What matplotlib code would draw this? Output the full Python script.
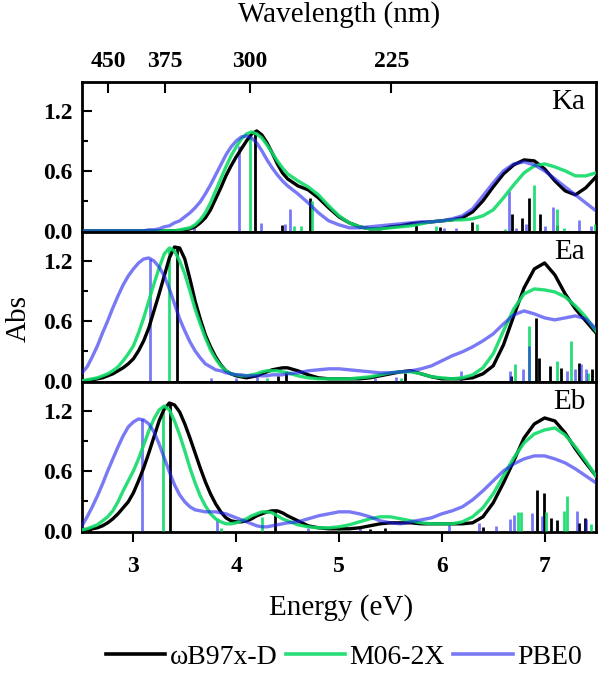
import numpy as np
import matplotlib
matplotlib.use('Agg')
import matplotlib.pyplot as plt
from matplotlib.lines import Line2D

plt.rcParams['font.family'] = ['Liberation Serif', 'DejaVu Serif']

energy = np.round(np.concatenate([np.arange(2.5, 4.501, 0.05), np.arange(4.6, 7.501, 0.1)]), 2)

# ---- Ka ----
ka_wb97 = [0]*20 + [0.01, 0.02, 0.04, 0.08, 0.13, 0.21, 0.32, 0.43, 0.55, 0.65, 0.74, 0.82, 0.9, 0.97, 1.0,
           0.96, 0.88, 0.78, 0.67, 0.58, 0.52] + \
          [0.45, 0.41, 0.33, 0.23, 0.14, 0.08, 0.04, 0.02, 0.02, 0.04, 0.05, 0.07, 0.08, 0.09, 0.1, 0.11, 0.13,
           0.19, 0.3, 0.44, 0.57, 0.66, 0.71, 0.7, 0.62, 0.5, 0.4, 0.36, 0.43, 0.54]
ka_m06 = [0]*19 + [0.01, 0.02, 0.03, 0.06, 0.11, 0.18, 0.28, 0.4, 0.52, 0.64, 0.75, 0.84, 0.92, 0.97, 0.99,
          0.97, 0.93, 0.86, 0.78, 0.7, 0.63, 0.57] + \
         [0.5, 0.44, 0.36, 0.25, 0.15, 0.08, 0.04, 0.02, 0.02, 0.03, 0.04, 0.05, 0.07, 0.09, 0.1, 0.11, 0.11,
          0.12, 0.15, 0.21, 0.33, 0.46, 0.58, 0.65, 0.67, 0.64, 0.6, 0.55, 0.55, 0.58]
ka_pbe0 = [0]*13 + [0.01, 0.01, 0.02, 0.04, 0.05, 0.08, 0.1, 0.14, 0.18, 0.23, 0.29, 0.37, 0.46, 0.56, 0.66,
           0.76, 0.84, 0.9, 0.94, 0.95, 0.93, 0.88, 0.8, 0.71, 0.63, 0.56, 0.5, 0.45] + \
          [0.37, 0.28, 0.18, 0.1, 0.06, 0.03, 0.03, 0.04, 0.05, 0.06, 0.07, 0.08, 0.09, 0.09, 0.1, 0.12, 0.15,
           0.22, 0.35, 0.48, 0.6, 0.67, 0.69, 0.66, 0.6, 0.52, 0.44, 0.36, 0.28, 0.2]

ka_wb97_st_e = [4.18, 4.45, 4.72, 5.75, 5.98, 6.29, 6.68, 6.78, 6.85, 6.96, 7.12]
ka_wb97_st_f = [0.97, 0.06, 0.33, 0.06, 0.04, 0.09, 0.17, 0.13, 0.33, 0.17, 0.06]
ka_m06_st_e = [4.13, 4.56, 4.63, 4.74, 5.94, 6.34, 6.61, 6.90, 7.12, 7.19, 7.49]
ka_m06_st_f = [0.96, 0.05, 0.05, 0.30, 0.05, 0.07, 0.02, 0.46, 0.22, 0.03, 0.07]
ka_pbe0_st_e = [3.59, 4.03, 4.24, 4.47, 4.52, 6.02, 6.14, 6.65, 6.72, 6.82, 7.0, 7.08, 7.33, 7.45]
ka_pbe0_st_f = [0.03, 0.85, 0.08, 0.07, 0.22, 0.03, 0.03, 0.40, 0.03, 0.07, 0.05, 0.24, 0.11, 0.05]

# ---- Ea ----
ea_wb97 = [0.0, 0.0, 0.01, 0.02, 0.03, 0.05, 0.07, 0.1, 0.13, 0.17, 0.22, 0.3, 0.4, 0.53, 0.7, 0.87, 1.05,
           1.23, 1.34, 1.33, 1.22, 1.02, 0.8, 0.62, 0.46, 0.34, 0.24, 0.16, 0.1, 0.07, 0.05, 0.04, 0.03, 0.04,
           0.05, 0.07, 0.09, 0.11, 0.12, 0.13, 0.13] + \
          [0.1, 0.06, 0.03, 0.02, 0.02, 0.02, 0.02, 0.03, 0.05, 0.07, 0.09, 0.1, 0.07, 0.04, 0.02, 0.02, 0.02,
           0.03, 0.07, 0.15, 0.36, 0.65, 0.93, 1.12, 1.18, 1.06, 0.87, 0.72, 0.6, 0.48]
ea_m06 = [0.0, 0.01, 0.02, 0.03, 0.05, 0.07, 0.1, 0.14, 0.2, 0.27, 0.35, 0.48, 0.63, 0.8, 0.97, 1.13, 1.27,
          1.33, 1.3, 1.2, 1.07, 0.9, 0.72, 0.57, 0.43, 0.31, 0.22, 0.15, 0.1, 0.07, 0.06, 0.05, 0.05, 0.06,
          0.07, 0.09, 0.1, 0.1, 0.1, 0.09, 0.08] + \
         [0.05, 0.03, 0.02, 0.02, 0.02, 0.02, 0.03, 0.04, 0.06, 0.08, 0.09, 0.09, 0.07, 0.04, 0.03, 0.02, 0.03,
          0.06, 0.13, 0.27, 0.5, 0.72, 0.87, 0.92, 0.91, 0.89, 0.84, 0.75, 0.64, 0.5]
ea_pbe0 = [0.08, 0.14, 0.24, 0.35, 0.48, 0.6, 0.73, 0.85, 0.96, 1.05, 1.12, 1.18, 1.22, 1.23, 1.2, 1.14, 1.05,
           0.92, 0.77, 0.62, 0.5, 0.39, 0.3, 0.23, 0.17, 0.14, 0.11, 0.1, 0.08, 0.07, 0.06, 0.06, 0.05, 0.05,
           0.05, 0.05, 0.05, 0.06, 0.06, 0.06, 0.07] + \
          [0.08, 0.1, 0.11, 0.12, 0.12, 0.11, 0.1, 0.09, 0.08, 0.08, 0.09, 0.1, 0.12, 0.15, 0.2, 0.25, 0.29,
           0.34, 0.4, 0.47, 0.57, 0.66, 0.7, 0.67, 0.63, 0.61, 0.63, 0.65, 0.62, 0.52]

ea_wb97_st_e = [3.42, 4.41, 4.48, 5.64, 6.67, 6.92, 6.95, 7.05, 7.16, 7.33, 7.46]
ea_wb97_st_f = [1.34, 0.05, 0.10, 0.08, 0.05, 0.63, 0.23, 0.15, 0.13, 0.18, 0.12]
ea_m06_st_e = [3.35, 4.30, 5.60, 6.71, 6.85, 7.12, 7.26, 7.42]
ea_m06_st_f = [1.32, 0.03, 0.03, 0.17, 0.55, 0.20, 0.40, 0.08]
ea_pbe0_st_e = [3.16, 3.75, 4.00, 4.20, 5.35, 5.55, 6.19, 6.66, 6.79, 6.85, 7.22, 7.30, 7.35, 7.40]
ea_pbe0_st_f = [1.22, 0.03, 0.03, 0.04, 0.03, 0.04, 0.10, 0.10, 0.12, 0.35, 0.10, 0.12, 0.17, 0.12]

# ---- Eb ----
eb_wb97 = [0.0, 0.01, 0.02, 0.03, 0.05, 0.08, 0.12, 0.17, 0.23, 0.29, 0.38, 0.5, 0.63, 0.78, 0.94, 1.1, 1.22,
           1.28, 1.26, 1.19, 1.07, 0.93, 0.78, 0.63, 0.49, 0.37, 0.27, 0.19, 0.13, 0.1, 0.09, 0.09, 0.1, 0.12,
           0.15, 0.17, 0.19, 0.2, 0.2, 0.18, 0.15] + \
          [0.1, 0.05, 0.03, 0.02, 0.02, 0.02, 0.03, 0.05, 0.07, 0.08, 0.08, 0.08, 0.07, 0.07, 0.07, 0.07, 0.07,
           0.08, 0.14, 0.28, 0.48, 0.7, 0.93, 1.07, 1.13, 1.1, 0.98, 0.82, 0.68, 0.55]
eb_m06 = [0.01, 0.02, 0.04, 0.06, 0.1, 0.14, 0.2, 0.29, 0.4, 0.5, 0.6, 0.72, 0.86, 1.0, 1.12, 1.21, 1.25,
          1.21, 1.1, 0.96, 0.8, 0.63, 0.48, 0.35, 0.25, 0.17, 0.12, 0.09, 0.07, 0.07, 0.08, 0.1, 0.12, 0.15,
          0.17, 0.19, 0.19, 0.18, 0.15, 0.12, 0.1] + \
         [0.06, 0.04, 0.03, 0.03, 0.04, 0.06, 0.09, 0.12, 0.14, 0.14, 0.12, 0.1, 0.08, 0.07, 0.07, 0.07, 0.09,
          0.14, 0.23, 0.37, 0.55, 0.73, 0.88, 0.97, 1.01, 1.03, 0.96, 0.84, 0.7, 0.55]
eb_pbe0 = [0.05, 0.14, 0.24, 0.35, 0.47, 0.6, 0.72, 0.84, 0.95, 1.04, 1.09, 1.12, 1.11, 1.07, 0.99, 0.87,
           0.73, 0.59, 0.46, 0.36, 0.29, 0.24, 0.21, 0.2, 0.19, 0.19, 0.19, 0.18, 0.17, 0.15, 0.13, 0.11, 0.09,
           0.07, 0.05, 0.04, 0.04, 0.05, 0.06, 0.07, 0.08] + \
          [0.09, 0.12, 0.15, 0.17, 0.19, 0.19, 0.17, 0.14, 0.1, 0.08, 0.07, 0.09, 0.11, 0.13, 0.17, 0.2, 0.24,
           0.31, 0.4, 0.5, 0.6, 0.67, 0.72, 0.75, 0.75, 0.72, 0.68, 0.62, 0.55, 0.48]

eb_wb97_st_e = [3.36, 4.38, 5.30, 5.45, 6.40, 6.93, 6.99, 7.06, 7.12, 7.33, 7.39]
eb_wb97_st_f = [1.28, 0.20, 0.02, 0.03, 0.04, 0.41, 0.38, 0.13, 0.11, 0.08, 0.13]
eb_m06_st_e = [3.29, 3.85, 4.25, 5.00, 6.74, 6.77, 7.01, 7.19, 7.22, 7.45]
eb_m06_st_f = [1.25, 0.03, 0.14, 0.02, 0.19, 0.19, 0.19, 0.20, 0.35, 0.07]
eb_pbe0_st_e = [3.08, 3.81, 4.70, 5.20, 6.07, 6.36, 6.53, 6.66, 6.70, 6.88, 6.97, 7.32, 7.40]
eb_pbe0_st_f = [1.12, 0.12, 0.03, 0.03, 0.07, 0.08, 0.05, 0.12, 0.16, 0.18, 0.15, 0.20, 0.12]

panel_names = ['Ka', 'Ea', 'Eb']
methods = ['\u03c9B97x-D', 'M06-2X', 'PBE0']
wavelengths = [450, 375, 300, 225]
energy_ticks = [3, 4, 5, 6, 7]
abs_ticks = [0.0, 0.6, 1.2]

colors = ['#000000', '#10DC68', '#2020F0']
alphas = [1.0, 0.9, 0.6]

panels = [
    [(ka_wb97, ka_wb97_st_e, ka_wb97_st_f), (ka_m06, ka_m06_st_e, ka_m06_st_f), (ka_pbe0, ka_pbe0_st_e, ka_pbe0_st_f)],
    [(ea_wb97, ea_wb97_st_e, ea_wb97_st_f), (ea_m06, ea_m06_st_e, ea_m06_st_f), (ea_pbe0, ea_pbe0_st_e, ea_pbe0_st_f)],
    [(eb_wb97, eb_wb97_st_e, eb_wb97_st_f), (eb_m06, eb_m06_st_e, eb_m06_st_f), (eb_pbe0, eb_pbe0_st_e, eb_pbe0_st_f)],
]

fig, axes = plt.subplots(3, 1, figsize=(6, 6.78), dpi=100, sharex=True, gridspec_kw=dict(hspace=0))
fig.subplots_adjust(left=82/600, right=596/600, top=1-82/678, bottom=1-532/678)

for ax, name, data in zip(axes, panel_names, panels):
    for (curve, st_e, st_f), c, a in zip(data, colors, alphas):
        ax.vlines(st_e, 0, st_f, colors=c, alpha=a, lw=2.0, zorder=3)
        ax.plot(energy, curve, color=c, alpha=a, lw=2.4, zorder=4)
    ax.set_xlim(2.5, 7.5)
    ax.set_ylim(-0.012, 1.49)
    ax.set_yticks(abs_ticks)
    ax.set_yticks([0.3, 0.9], minor=True)
    ax.set_yticklabels(['%.1f' % v for v in abs_ticks], fontweight='bold', fontsize=17)
    ax.tick_params(axis='y', which='major', direction='in', length=7, width=1.5, pad=7)
    ax.tick_params(axis='y', which='minor', direction='in', length=4, width=1.5)
    ax.tick_params(axis='x', which='major', direction='out', length=7, width=1.5, pad=10)
    for sp in ax.spines.values():
        sp.set_linewidth(2.0)
    ax.text(0.979, 0.866, name, transform=ax.transAxes, ha='right', va='center', fontsize=21)

axes[-1].set_xticks(energy_ticks)
axes[-1].set_xticklabels([str(v) for v in energy_ticks], fontweight='bold', fontsize=17)

# wavelength axis on top of first panel
top = axes[0].twiny()
top.set_xlim(2.5, 7.5)
top.set_xticks([1239.84 / w for w in wavelengths])
top.set_xticklabels([str(w) for w in wavelengths], fontweight='bold', fontsize=17)
top.tick_params(axis='x', direction='in', length=8, width=1.5, pad=7)

fig.text(0.565, 1 - 15/678, 'Wavelength (nm)', ha='center', va='center', fontsize=21)
fig.text(0.568, 1 - 608/678, 'Energy (eV)', ha='center', va='center', fontsize=21)
fig.text(0.031, 1 - 318/678, 'Abs', ha='center', va='center', rotation=90, fontsize=21)

handles = [Line2D([], [], color=c, alpha=a, lw=2.6) for c, a in zip(colors, alphas)]
fig.legend(handles, methods, loc='center', bbox_to_anchor=(0.573, 1 - 657/678), ncol=3, frameon=False,
           fontsize=20, handlelength=2.15, handletextpad=0.15, columnspacing=0.3)

fig.savefig('out.png', dpi=100)
